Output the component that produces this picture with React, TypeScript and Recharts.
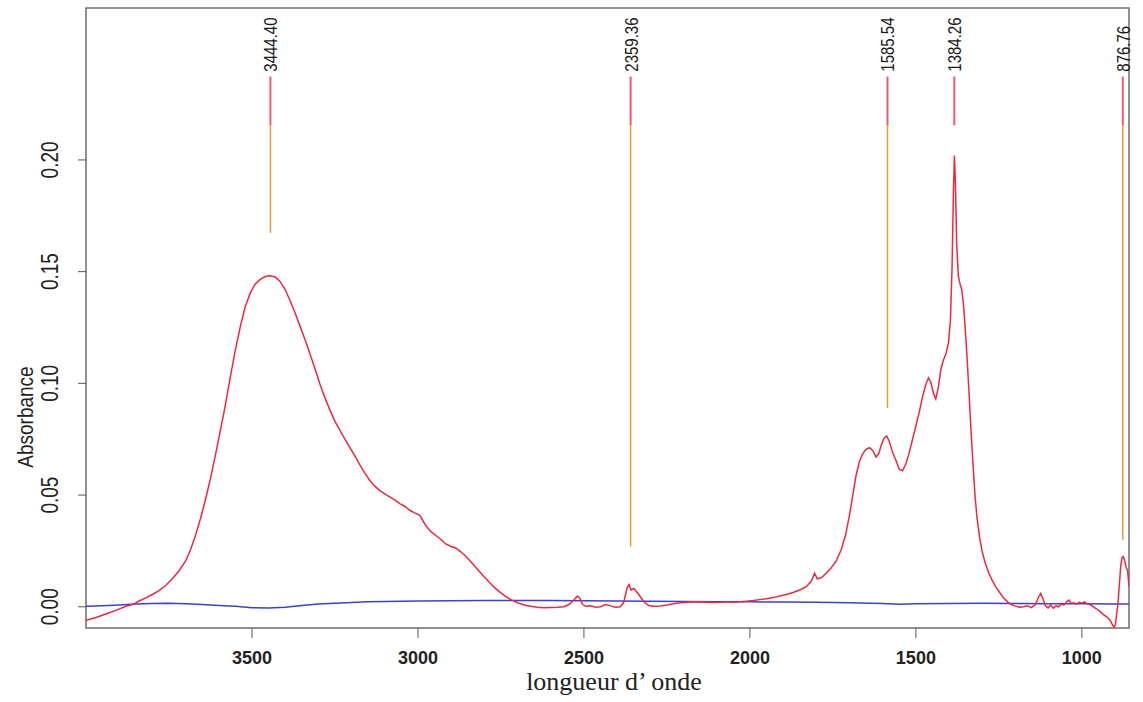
import { LineChart, Line, XAxis, YAxis, ReferenceLine, ReferenceDot, ReferenceArea } from 'recharts';

// sample spectrum (red), wavenumber in cm-1
const wavenumber = [
  4000, 3970, 3940, 3910, 3880, 3860, 3840, 3820, 3800, 3780, 3760, 3740, 3720, 3700, 3685, 3670, 3655, 3640,
  3625, 3610, 3595, 3580, 3565, 3550, 3535, 3520, 3505, 3490, 3475, 3460, 3445, 3430, 3415, 3400, 3385, 3370,
  3355, 3340, 3325, 3310, 3295, 3280, 3265, 3250, 3235, 3220, 3205, 3190, 3175, 3160, 3145, 3130, 3115, 3100,
  3085, 3070, 3055, 3040, 3025, 3010, 2995, 2985, 2975, 2960, 2945, 2930, 2915, 2900, 2885, 2870, 2855, 2840,
  2825, 2810, 2795, 2780, 2765, 2750, 2735, 2720, 2700, 2680, 2660, 2640, 2620, 2600, 2580, 2560, 2545, 2530,
  2520, 2512, 2505, 2495, 2480, 2465, 2450, 2435, 2420, 2405, 2390, 2380, 2370, 2364, 2358, 2350, 2340, 2330,
  2318, 2305, 2290, 2270, 2250, 2230, 2210, 2190, 2170, 2150, 2130, 2110, 2090, 2070, 2050, 2030, 2010, 1990,
  1970, 1950, 1930, 1910, 1890, 1870, 1850, 1830, 1815, 1805, 1797, 1785, 1770, 1755, 1740, 1725, 1712, 1700,
  1690, 1680, 1670, 1660, 1650, 1640, 1630, 1620, 1612, 1604, 1596, 1588, 1580, 1570, 1560, 1550, 1540, 1530,
  1520, 1510, 1500, 1490, 1480, 1470, 1462, 1455, 1447, 1440, 1432, 1425, 1418, 1410, 1402, 1396, 1391, 1387,
  1384, 1381, 1377, 1372, 1367, 1362, 1357, 1352, 1346, 1340, 1334, 1328, 1322, 1316, 1308, 1300, 1290, 1280,
  1270, 1260, 1248, 1236, 1224, 1212, 1200, 1188, 1176, 1164, 1152, 1140, 1130, 1124, 1117, 1110, 1102, 1094,
  1086, 1078, 1070, 1062, 1054, 1046, 1039, 1032, 1024, 1016, 1008, 1000, 992, 984, 975, 965, 955, 945,
  935, 925, 915, 908, 903, 899, 895, 891, 887, 883, 879, 875, 871, 866, 862, 858,
];
const absorbance = [
  -0.006, -0.0048, -0.0032, -0.0016, 0.0002, 0.001, 0.0026, 0.004, 0.0055, 0.0072, 0.0095, 0.0125, 0.016, 0.0205, 0.0255, 0.032, 0.0395, 0.048,
  0.0575, 0.068, 0.079, 0.0905, 0.103, 0.115, 0.1255, 0.1345, 0.1405, 0.1445, 0.1465, 0.1478, 0.1482, 0.1476, 0.1455, 0.142, 0.137, 0.1315,
  0.1255, 0.1195, 0.113, 0.1065, 0.0995, 0.0935, 0.088, 0.083, 0.079, 0.075, 0.0712, 0.0675, 0.0635, 0.0598, 0.0565, 0.054, 0.052, 0.0505,
  0.0492, 0.0478, 0.0462, 0.045, 0.0432, 0.042, 0.041, 0.0385, 0.036, 0.0335, 0.0318, 0.03, 0.028, 0.027, 0.0262, 0.0245, 0.0225, 0.02,
  0.0175, 0.015, 0.0125, 0.0102, 0.008, 0.0062, 0.0045, 0.0032, 0.0018, 0.0008, 0.0002, -0.0002, -0.0004, -0.0003, -0.0002, 0.0, 0.001, 0.003,
  0.0048, 0.0038, 0.0012, 0.0002, 0.0004, -0.0002, 0.0, 0.001, 0.0004, -0.0002, 0.0, 0.002, 0.0085, 0.01, 0.0075, 0.0082, 0.0065, 0.0045,
  0.002, 0.0006, 0.0002, 0.0004, 0.0008, 0.0014, 0.0018, 0.002, 0.0022, 0.0021, 0.002, 0.0019, 0.002, 0.0022, 0.002, 0.0022, 0.0025, 0.0028,
  0.0032, 0.0036, 0.0041, 0.0048, 0.0055, 0.0064, 0.0075, 0.009, 0.0115, 0.015, 0.0125, 0.013, 0.015, 0.0175, 0.0205, 0.0255, 0.032, 0.041,
  0.05, 0.059, 0.065, 0.0685, 0.0705, 0.0712, 0.07, 0.067, 0.0685, 0.0725, 0.0755, 0.0765, 0.074, 0.069, 0.0655, 0.0615, 0.061, 0.064,
  0.069, 0.075, 0.081, 0.087, 0.094, 0.0995, 0.1025, 0.1005, 0.0955, 0.093, 0.0985, 0.106, 0.11, 0.113, 0.118, 0.128, 0.152, 0.185,
  0.202, 0.19, 0.162, 0.148, 0.1445, 0.142, 0.136, 0.126, 0.112, 0.096, 0.079, 0.064, 0.05, 0.04, 0.031, 0.0245, 0.019, 0.015,
  0.0118, 0.009, 0.0065, 0.004, 0.0022, 0.001, 0.0003, -0.0002, 0.0, 0.0004, -0.0004, 0.001, 0.0045, 0.006, 0.0035, 0.0005, -0.0005, 0.0008,
  -0.0006, 0.0004, 0.0, 0.0012, 0.0008, 0.0022, 0.003, 0.0015, 0.0018, 0.0012, 0.002, 0.0016, 0.0022, 0.0014, 0.001, 0.0, -0.001, -0.0022,
  -0.0035, -0.0045, -0.006, -0.008, -0.0092, -0.008, -0.003, 0.002, 0.01, 0.018, 0.022, 0.0225, 0.0205, 0.0175, 0.016, 0.009,
];

// reference / blank (blue)
const blankWavenumber = [4000, 3950, 3900, 3850, 3800, 3750, 3700, 3650, 3600, 3550, 3500, 3450, 3400, 3350, 3300, 3250, 3200, 3150, 3100, 3050, 3000, 2900, 2800, 2700, 2600, 2500, 2400, 2300, 2200, 2100, 2000, 1900, 1800, 1700, 1600, 1550, 1500, 1400, 1300, 1200, 1100, 1000, 900, 858];
const blankAbsorbance = [0.0002, 0.0005, 0.0008, 0.0012, 0.0015, 0.0016, 0.0014, 0.001, 0.0006, 0.0002, -0.0004, -0.0005, -0.0002, 0.0006, 0.0012, 0.0016, 0.0019, 0.0022, 0.0024, 0.0025, 0.0026, 0.0027, 0.0028, 0.0028, 0.0028, 0.0027, 0.0026, 0.0025, 0.0024, 0.0023, 0.0022, 0.0021, 0.002, 0.0018, 0.0015, 0.0011, 0.0013, 0.0015, 0.0016, 0.0015, 0.0014, 0.0013, 0.0012, 0.0012];

// annotated peaks
const peakWavenumber = [3444.4, 2359.36, 1585.54, 1384.26, 876.76];
const peakLabel = ['3444.40', '2359.36', '1585.54', '1384.26', '876.76'];
const peakLineEnd = [0.1673, 0.027, 0.089, 0.2155, 0.03];

const xTicks = [3500, 3000, 2500, 2000, 1500, 1000];
const yTicks = [0, 0.05, 0.1, 0.15, 0.2];

const X_DOMAIN: [number, number] = [858, 4000];
const Y_DOMAIN: [number, number] = [-0.0095, 0.268];
const LINE_TOP = 0.2373;
const LINE_SPLIT = 0.2155;
const LABEL_BASE = 0.2395;

const spectrum = wavenumber.map((x, i) => ({ x, y: absorbance[i] }));
const blank = blankWavenumber.map((x, i) => ({ x, y: blankAbsorbance[i] }));

const XTick = ({ x, y, payload }: any) => (
  <text x={x} y={y + 24} textAnchor="middle" fontFamily="Arial, 'Liberation Sans'" fontWeight="bold" fontSize={18} fill="#222">
    {payload.value}
  </text>
);

// rotated labels in the source look stretched sideways, hence the scale
const YTick = ({ x, y, payload }: any) => (
  <text transform={`translate(${x - 18},${y}) rotate(-90) scale(1,1.25)`} textAnchor="middle" fontFamily="Arial, 'Liberation Sans'" fontSize={19} fill="#222">
    {Number(payload.value).toFixed(2)}
  </text>
);

const PeakText = (label: string) => (props: any) => (
  <text
    transform={`translate(${props.cx + 7},${props.cy}) rotate(-90) scale(1,1.25)`}
    textAnchor="start"
    fontFamily="Arial, 'Liberation Sans'"
    fontSize={15}
    fill="#1a1a1a"
  >
    {label}
  </text>
);

export default function App() {
  return (
    <div style={{ position: 'absolute', left: 0, top: 0, background: '#fff' }}>
      <LineChart width={1143} height={702} margin={{ top: 8, right: 14, left: 0, bottom: 0 }}>
        <XAxis
          dataKey="x"
          type="number"
          domain={X_DOMAIN}
          reversed
          allowDataOverflow
          ticks={xTicks}
          tick={<XTick />}
          tickSize={10}
          tickLine={{ stroke: '#555' }}
          axisLine={false}
          height={74}
          label={{
            content: () => (
              <text x={614} y={690} textAnchor="middle" fontFamily="'Times New Roman', 'Liberation Serif', serif" fontSize={26} fill="#222">
                longueur d’ onde
              </text>
            ),
          }}
        />
        <YAxis
          type="number"
          domain={Y_DOMAIN}
          allowDataOverflow
          ticks={yTicks}
          tick={<YTick />}
          tickSize={8}
          tickLine={{ stroke: '#555' }}
          axisLine={false}
          width={86}
          label={{
            content: () => (
              <text transform="translate(33,417) rotate(-90) scale(1,1.2)" textAnchor="middle" fontFamily="Arial, 'Liberation Sans'" fontSize={19} fill="#222">
                Absorbance
              </text>
            ),
          }}
        />
        <Line data={blank} dataKey="y" stroke="#3a3ee0" strokeWidth={1.5} dot={false} isAnimationActive={false} />
        <Line data={spectrum} dataKey="y" stroke="#f0283c" strokeWidth={1.5} dot={false} isAnimationActive={false} />
        {peakWavenumber.map((p, i) => (
          <ReferenceLine
            key={`r${i}`}
            segment={[{ x: p, y: LINE_TOP }, { x: p, y: LINE_SPLIT }]}
            stroke="#f05a6a"
            strokeWidth={2}
          />
        ))}
        {peakWavenumber.map((p, i) =>
          peakLineEnd[i] < LINE_SPLIT ? (
            <ReferenceLine
              key={`o${i}`}
              segment={[{ x: p, y: LINE_SPLIT }, { x: p, y: peakLineEnd[i] }]}
              stroke="#ec9a3a"
              strokeWidth={1.5}
            />
          ) : null
        )}
        {peakWavenumber.map((p, i) => (
          <ReferenceDot key={`t${i}`} x={p} y={LABEL_BASE} r={0} shape={PeakText(peakLabel[i])} />
        ))}
        <ReferenceArea x1={X_DOMAIN[0]} x2={X_DOMAIN[1]} y1={Y_DOMAIN[0]} y2={Y_DOMAIN[1]} fill="none" stroke="#6e6e6e" strokeWidth={1.5} />
      </LineChart>
    </div>
  );
}
